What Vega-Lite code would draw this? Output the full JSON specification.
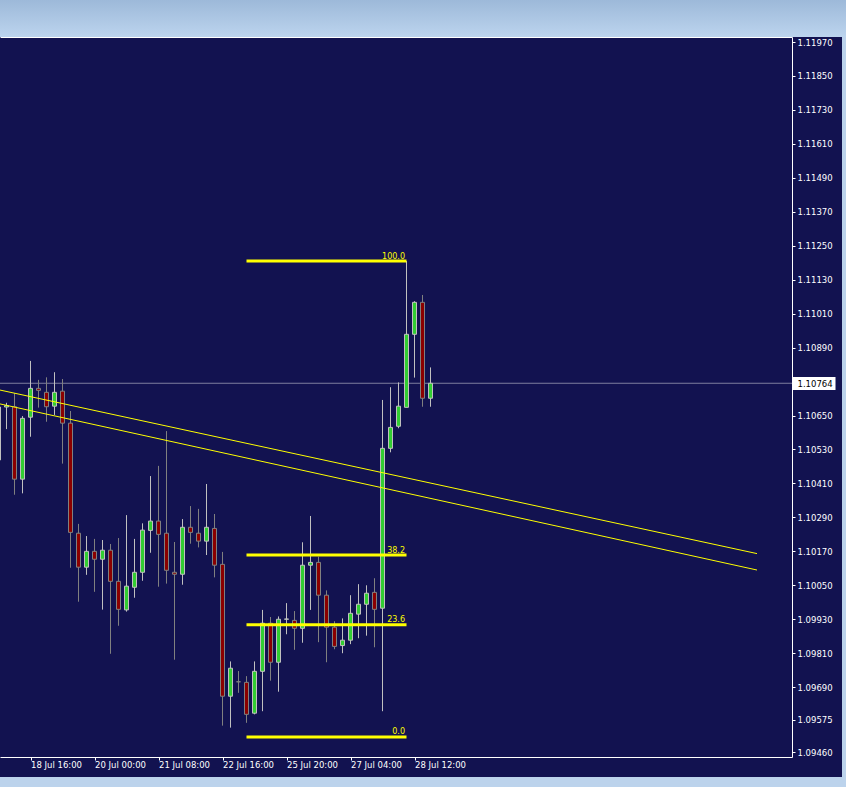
{
  "$schema": "https://vega.github.io/schema/vega-lite/v6.json",
  "background": "#121250",
  "padding": 0,
  "spacing": 0,
  "config": {"view": {"stroke": null}, "concat": {"spacing": 0}, "axis": {"grid": false, "title": null}, "scale": {"continuousPadding": 0}},
  "datasets": {
    "candles": [
      {"k": -1, "open": 1.10493, "high": 1.10705, "low": 1.10486, "close": 1.1068},
      {"k": 0, "open": 1.1068, "high": 1.10695, "low": 1.10602, "close": 1.10685},
      {"k": 1, "open": 1.10681, "high": 1.10729, "low": 1.1037, "close": 1.10425},
      {"k": 2, "open": 1.10425, "high": 1.10648, "low": 1.10375, "close": 1.1064},
      {"k": 3, "open": 1.10644, "high": 1.10843, "low": 1.10575, "close": 1.10746},
      {"k": 4, "open": 1.10746, "high": 1.10776, "low": 1.10678, "close": 1.10739},
      {"k": 5, "open": 1.10732, "high": 1.10785, "low": 1.10628, "close": 1.10681},
      {"k": 6, "open": 1.10683, "high": 1.10803, "low": 1.10652, "close": 1.10732},
      {"k": 7, "open": 1.10736, "high": 1.10779, "low": 1.1048, "close": 1.10623},
      {"k": 8, "open": 1.10623, "high": 1.10666, "low": 1.10112, "close": 1.10237},
      {"k": 9, "open": 1.10234, "high": 1.10267, "low": 1.09992, "close": 1.10114},
      {"k": 10, "open": 1.10114, "high": 1.10224, "low": 1.10087, "close": 1.1017},
      {"k": 11, "open": 1.1017, "high": 1.10214, "low": 1.10027, "close": 1.10142},
      {"k": 12, "open": 1.10142, "high": 1.1021, "low": 1.09964, "close": 1.10174},
      {"k": 13, "open": 1.10174, "high": 1.10196, "low": 1.09808, "close": 1.10064},
      {"k": 14, "open": 1.10064, "high": 1.10217, "low": 1.09907, "close": 1.09965},
      {"k": 15, "open": 1.09963, "high": 1.10298, "low": 1.09957, "close": 1.10047},
      {"k": 16, "open": 1.10043, "high": 1.10214, "low": 1.10006, "close": 1.10096},
      {"k": 17, "open": 1.10096, "high": 1.10269, "low": 1.10066, "close": 1.10245},
      {"k": 18, "open": 1.10244, "high": 1.10436, "low": 1.10165, "close": 1.10277},
      {"k": 19, "open": 1.10277, "high": 1.10472, "low": 1.10045, "close": 1.1023},
      {"k": 20, "open": 1.10234, "high": 1.10595, "low": 1.10056, "close": 1.10103},
      {"k": 21, "open": 1.10096, "high": 1.10203, "low": 1.09787, "close": 1.10089},
      {"k": 22, "open": 1.10089, "high": 1.10284, "low": 1.10052, "close": 1.10255},
      {"k": 23, "open": 1.10255, "high": 1.1033, "low": 1.10197, "close": 1.10237},
      {"k": 24, "open": 1.10234, "high": 1.1032, "low": 1.10184, "close": 1.10206},
      {"k": 25, "open": 1.10206, "high": 1.10408, "low": 1.10157, "close": 1.10255},
      {"k": 26, "open": 1.10251, "high": 1.10302, "low": 1.10078, "close": 1.10121},
      {"k": 27, "open": 1.10124, "high": 1.10168, "low": 1.09554, "close": 1.09658},
      {"k": 28, "open": 1.09658, "high": 1.09781, "low": 1.09547, "close": 1.09757},
      {"k": 29, "open": 1.09709, "high": 1.09747, "low": 1.0967, "close": 1.09709},
      {"k": 30, "open": 1.09707, "high": 1.09729, "low": 1.09564, "close": 1.09594},
      {"k": 31, "open": 1.09598, "high": 1.09781, "low": 1.09594, "close": 1.09746},
      {"k": 32, "open": 1.09746, "high": 1.09963, "low": 1.09605, "close": 1.09916},
      {"k": 33, "open": 1.09916, "high": 1.09938, "low": 1.09713, "close": 1.09778},
      {"k": 34, "open": 1.09778, "high": 1.0994, "low": 1.09674, "close": 1.0993},
      {"k": 35, "open": 1.0993, "high": 1.09987, "low": 1.09877, "close": 1.09931},
      {"k": 36, "open": 1.09926, "high": 1.09959, "low": 1.09822, "close": 1.09898},
      {"k": 37, "open": 1.09898, "high": 1.10202, "low": 1.09847, "close": 1.10121},
      {"k": 38, "open": 1.10121, "high": 1.10295, "low": 1.09963, "close": 1.10131},
      {"k": 39, "open": 1.10131, "high": 1.10151, "low": 1.09849, "close": 1.10015},
      {"k": 40, "open": 1.10015, "high": 1.10032, "low": 1.09778, "close": 1.09902},
      {"k": 41, "open": 1.09902, "high": 1.09923, "low": 1.09824, "close": 1.09834},
      {"k": 42, "open": 1.09837, "high": 1.09933, "low": 1.0981, "close": 1.09856},
      {"k": 43, "open": 1.09856, "high": 1.10015, "low": 1.09842, "close": 1.09951},
      {"k": 44, "open": 1.09948, "high": 1.10054, "low": 1.09863, "close": 1.09983},
      {"k": 45, "open": 1.09983, "high": 1.1005, "low": 1.09872, "close": 1.10022},
      {"k": 46, "open": 1.10025, "high": 1.10075, "low": 1.09831, "close": 1.09965},
      {"k": 47, "open": 1.09969, "high": 1.10705, "low": 1.09605, "close": 1.10534},
      {"k": 48, "open": 1.10534, "high": 1.1075, "low": 1.1052, "close": 1.10608},
      {"k": 49, "open": 1.10612, "high": 1.10767, "low": 1.10605, "close": 1.10683},
      {"k": 50, "open": 1.10679, "high": 1.11196, "low": 1.10679, "close": 1.10937},
      {"k": 51, "open": 1.10937, "high": 1.11054, "low": 1.10784, "close": 1.1105},
      {"k": 52, "open": 1.1105, "high": 1.11076, "low": 1.10681, "close": 1.10711},
      {"k": 53, "open": 1.10711, "high": 1.1082, "low": 1.10681, "close": 1.10764}
    ],
    "fib": [
      {"level": "100.0", "price": 1.11196, "k1": 30, "k2": 50},
      {"level": "38.2", "price": 1.10157, "k1": 30, "k2": 50},
      {"level": "23.6", "price": 1.09911, "k1": 30, "k2": 50},
      {"level": "0.0", "price": 1.09514, "k1": 30, "k2": 50}
    ],
    "trend": [
      {"line": "upper", "k1": -0.8125, "p1": 1.1074, "k2": 93.8125, "p2": 1.10162},
      {"line": "lower", "k1": -0.8125, "p1": 1.10691, "k2": 93.8125, "p2": 1.10104}
    ],
    "last": [{"price": 1.10764}]
  },
  "vconcat": [
    {
      "width": 846,
      "height": 37,
      "data": {"values": [{}]},
      "mark": {"type": "rect", "stroke": null, "fill": {"gradient": "linear", "x1": 0, "y1": 0, "x2": 0, "y2": 1, "stops": [{"offset": 0, "color": "#9db9d9"}, {"offset": 1, "color": "#bcd4ee"}]}},
      "encoding": {}
    },
    {
      "spacing": 0,
      "hconcat": [
        {
          "width": 792,
          "height": 720,
          "view": {"fill": "#121250", "stroke": null},
          "resolve": {"axis": {"x": "independent", "y": "independent"}},
          "layer": [
            {
              "data": {"name": "last"},
              "mark": {"type": "rule", "color": "#7f7f9f", "strokeWidth": 1, "clip": true},
              "encoding": {
                "y": {
                  "field": "price", "type": "quantitative", "title": null,
                  "scale": {"domain": [1.094432, 1.119877], "nice": false, "zero": false, "padding": 0},
                  "axis": {
                    "orient": "right",
                    "values": [1.10764],
                    "format": ".5f",
                    "title": null,
                    "grid": false,
                    "domain": false,
                    "tickColor": "#ffffff",
                    "tickSize": 43,
                    "tickWidth": 13,
                    "labelColor": "#000000",
                    "labelPadding": -38,
                    "labelAlign": "left",
                    "labelFont": "DejaVu Sans",
                    "labelFontSize": 8.5,
                    "labelOverlap": false,
                    "labelFlush": false,
                    "minExtent": 43,
                    "maxExtent": 43
                  }
                }
              }
            },
            {
              "data": {"name": "candles"},
              "mark": {"type": "rule", "strokeWidth": 1, "clip": true},
              "encoding": {
                "x": {
                  "field": "k", "type": "quantitative", "title": null,
                  "scale": {"domain": [-0.8125, 98.1875], "nice": false, "zero": false, "padding": 0},
                  "axis": {
                    "orient": "bottom",
                    "values": [3, 11, 19, 27, 35, 43, 51],
                    "labelExpr": "datum.value == 3 ? '18 Jul 16:00' : datum.value == 11 ? '20 Jul 00:00' : datum.value == 19 ? '21 Jul 08:00' : datum.value == 27 ? '22 Jul 16:00' : datum.value == 35 ? '25 Jul 20:00' : datum.value == 43 ? '27 Jul 04:00' : '28 Jul 12:00'",
                    "title": null,
                    "grid": false,
                    "domainColor": "#ffffff",
                    "tickColor": "#ffffff",
                    "tickSize": 3,
                    "labelColor": "#ffffff",
                    "labelAlign": "left",
                    "labelBaseline": "top",
                    "labelPadding": 0,
                    "labelFont": "DejaVu Sans",
                    "labelFontSize": 8.5,
                    "labelOverlap": false,
                    "labelFlush": false,
                    "minExtent": 20,
                    "maxExtent": 20
                  }
                },
                "y": {
                  "field": "low", "type": "quantitative", "title": null,
                  "scale": {"domain": [1.094432, 1.119877], "nice": false, "zero": false, "padding": 0},
                  "axis": {
                    "orient": "right",
                    "values": [1.0946, 1.09575, 1.0969, 1.0981, 1.0993, 1.1005, 1.1017, 1.1029, 1.1041, 1.1053, 1.1065, 1.1089, 1.1101, 1.1113, 1.1125, 1.1137, 1.1149, 1.1161, 1.1173, 1.1185, 1.1197],
                    "format": ".5f",
                    "title": null,
                    "grid": false,
                    "domainColor": "#ffffff",
                    "tickColor": "#ffffff",
                    "tickSize": 3,
                    "labelColor": "#ffffff",
                    "labelPadding": 2,
                    "labelFont": "DejaVu Sans",
                    "labelFontSize": 8.5,
                    "labelOverlap": false,
                    "labelFlush": false,
                    "minExtent": 43,
                    "maxExtent": 43
                  }
                },
                "y2": {"field": "high"},
                "color": {"condition": {"test": "datum.close > datum.open", "value": "#c0c0c0"}, "value": "#808080"}
              }
            },
            {
              "data": {"name": "candles"},
              "mark": {"type": "bar", "size": 4, "strokeWidth": 1, "clip": true},
              "encoding": {
                "x": {"field": "k", "type": "quantitative", "title": null, "axis": null, "scale": {"domain": [-0.8125, 98.1875], "nice": false, "zero": false, "padding": 0}},
                "y": {"field": "open", "type": "quantitative", "title": null, "axis": null, "scale": {"domain": [1.094432, 1.119877], "nice": false, "zero": false, "padding": 0}},
                "y2": {"field": "close"},
                "fill": {"condition": {"test": "datum.close > datum.open", "value": "#32cd32"}, "value": "#8b0000"},
                "stroke": {"condition": {"test": "datum.close > datum.open", "value": "#c0c0c0"}, "value": "#808080"}
              }
            },
            {
              "data": {"name": "trend"},
              "mark": {"type": "rule", "color": "#ffff00", "strokeWidth": 1, "clip": true},
              "encoding": {
                "x": {
                  "field": "k1", "type": "quantitative", "title": null,
                  "scale": {"domain": [-0.8125, 98.1875], "nice": false, "zero": false, "padding": 0},
                  "axis": {"orient": "top", "title": null, "grid": false, "ticks": false, "labels": false, "domain": true, "domainColor": "#ffffff", "minExtent": 0, "maxExtent": 0}
                },
                "x2": {"field": "k2"},
                "y": {"field": "p1", "type": "quantitative", "title": null, "axis": null, "scale": {"domain": [1.094432, 1.119877], "nice": false, "zero": false, "padding": 0}},
                "y2": {"field": "p2"}
              }
            },
            {
              "data": {"name": "fib"},
              "mark": {"type": "rule", "color": "#ffff00", "strokeWidth": 3, "clip": true},
              "encoding": {
                "x": {"field": "k1", "type": "quantitative", "title": null, "axis": null, "scale": {"domain": [-0.8125, 98.1875], "nice": false, "zero": false, "padding": 0}},
                "x2": {"field": "k2"},
                "y": {"field": "price", "type": "quantitative", "title": null, "axis": null, "scale": {"domain": [1.094432, 1.119877], "nice": false, "zero": false, "padding": 0}}
              }
            },
            {
              "data": {"name": "fib"},
              "mark": {"type": "text", "color": "#ffff00", "align": "right", "baseline": "alphabetic", "dx": -1.5, "dy": -2.5, "font": "DejaVu Sans", "fontSize": 8, "clip": true},
              "encoding": {
                "x": {"field": "k2", "type": "quantitative", "title": null, "axis": null, "scale": {"domain": [-0.8125, 98.1875], "nice": false, "zero": false, "padding": 0}},
                "y": {"field": "price", "type": "quantitative", "title": null, "axis": null, "scale": {"domain": [1.094432, 1.119877], "nice": false, "zero": false, "padding": 0}},
                "text": {"field": "level", "type": "nominal"}
              }
            }
          ]
        },
        {
          "width": 11,
          "height": 740,
          "data": {"values": [{}]},
          "mark": {"type": "rect", "fill": "#bcd3ec", "stroke": null},
          "encoding": {}
        }
      ]
    },
    {
      "width": 846,
      "height": 10,
      "data": {"values": [{}]},
      "mark": {"type": "rect", "fill": "#bcd3ec", "stroke": null},
      "encoding": {}
    }
  ]
}
